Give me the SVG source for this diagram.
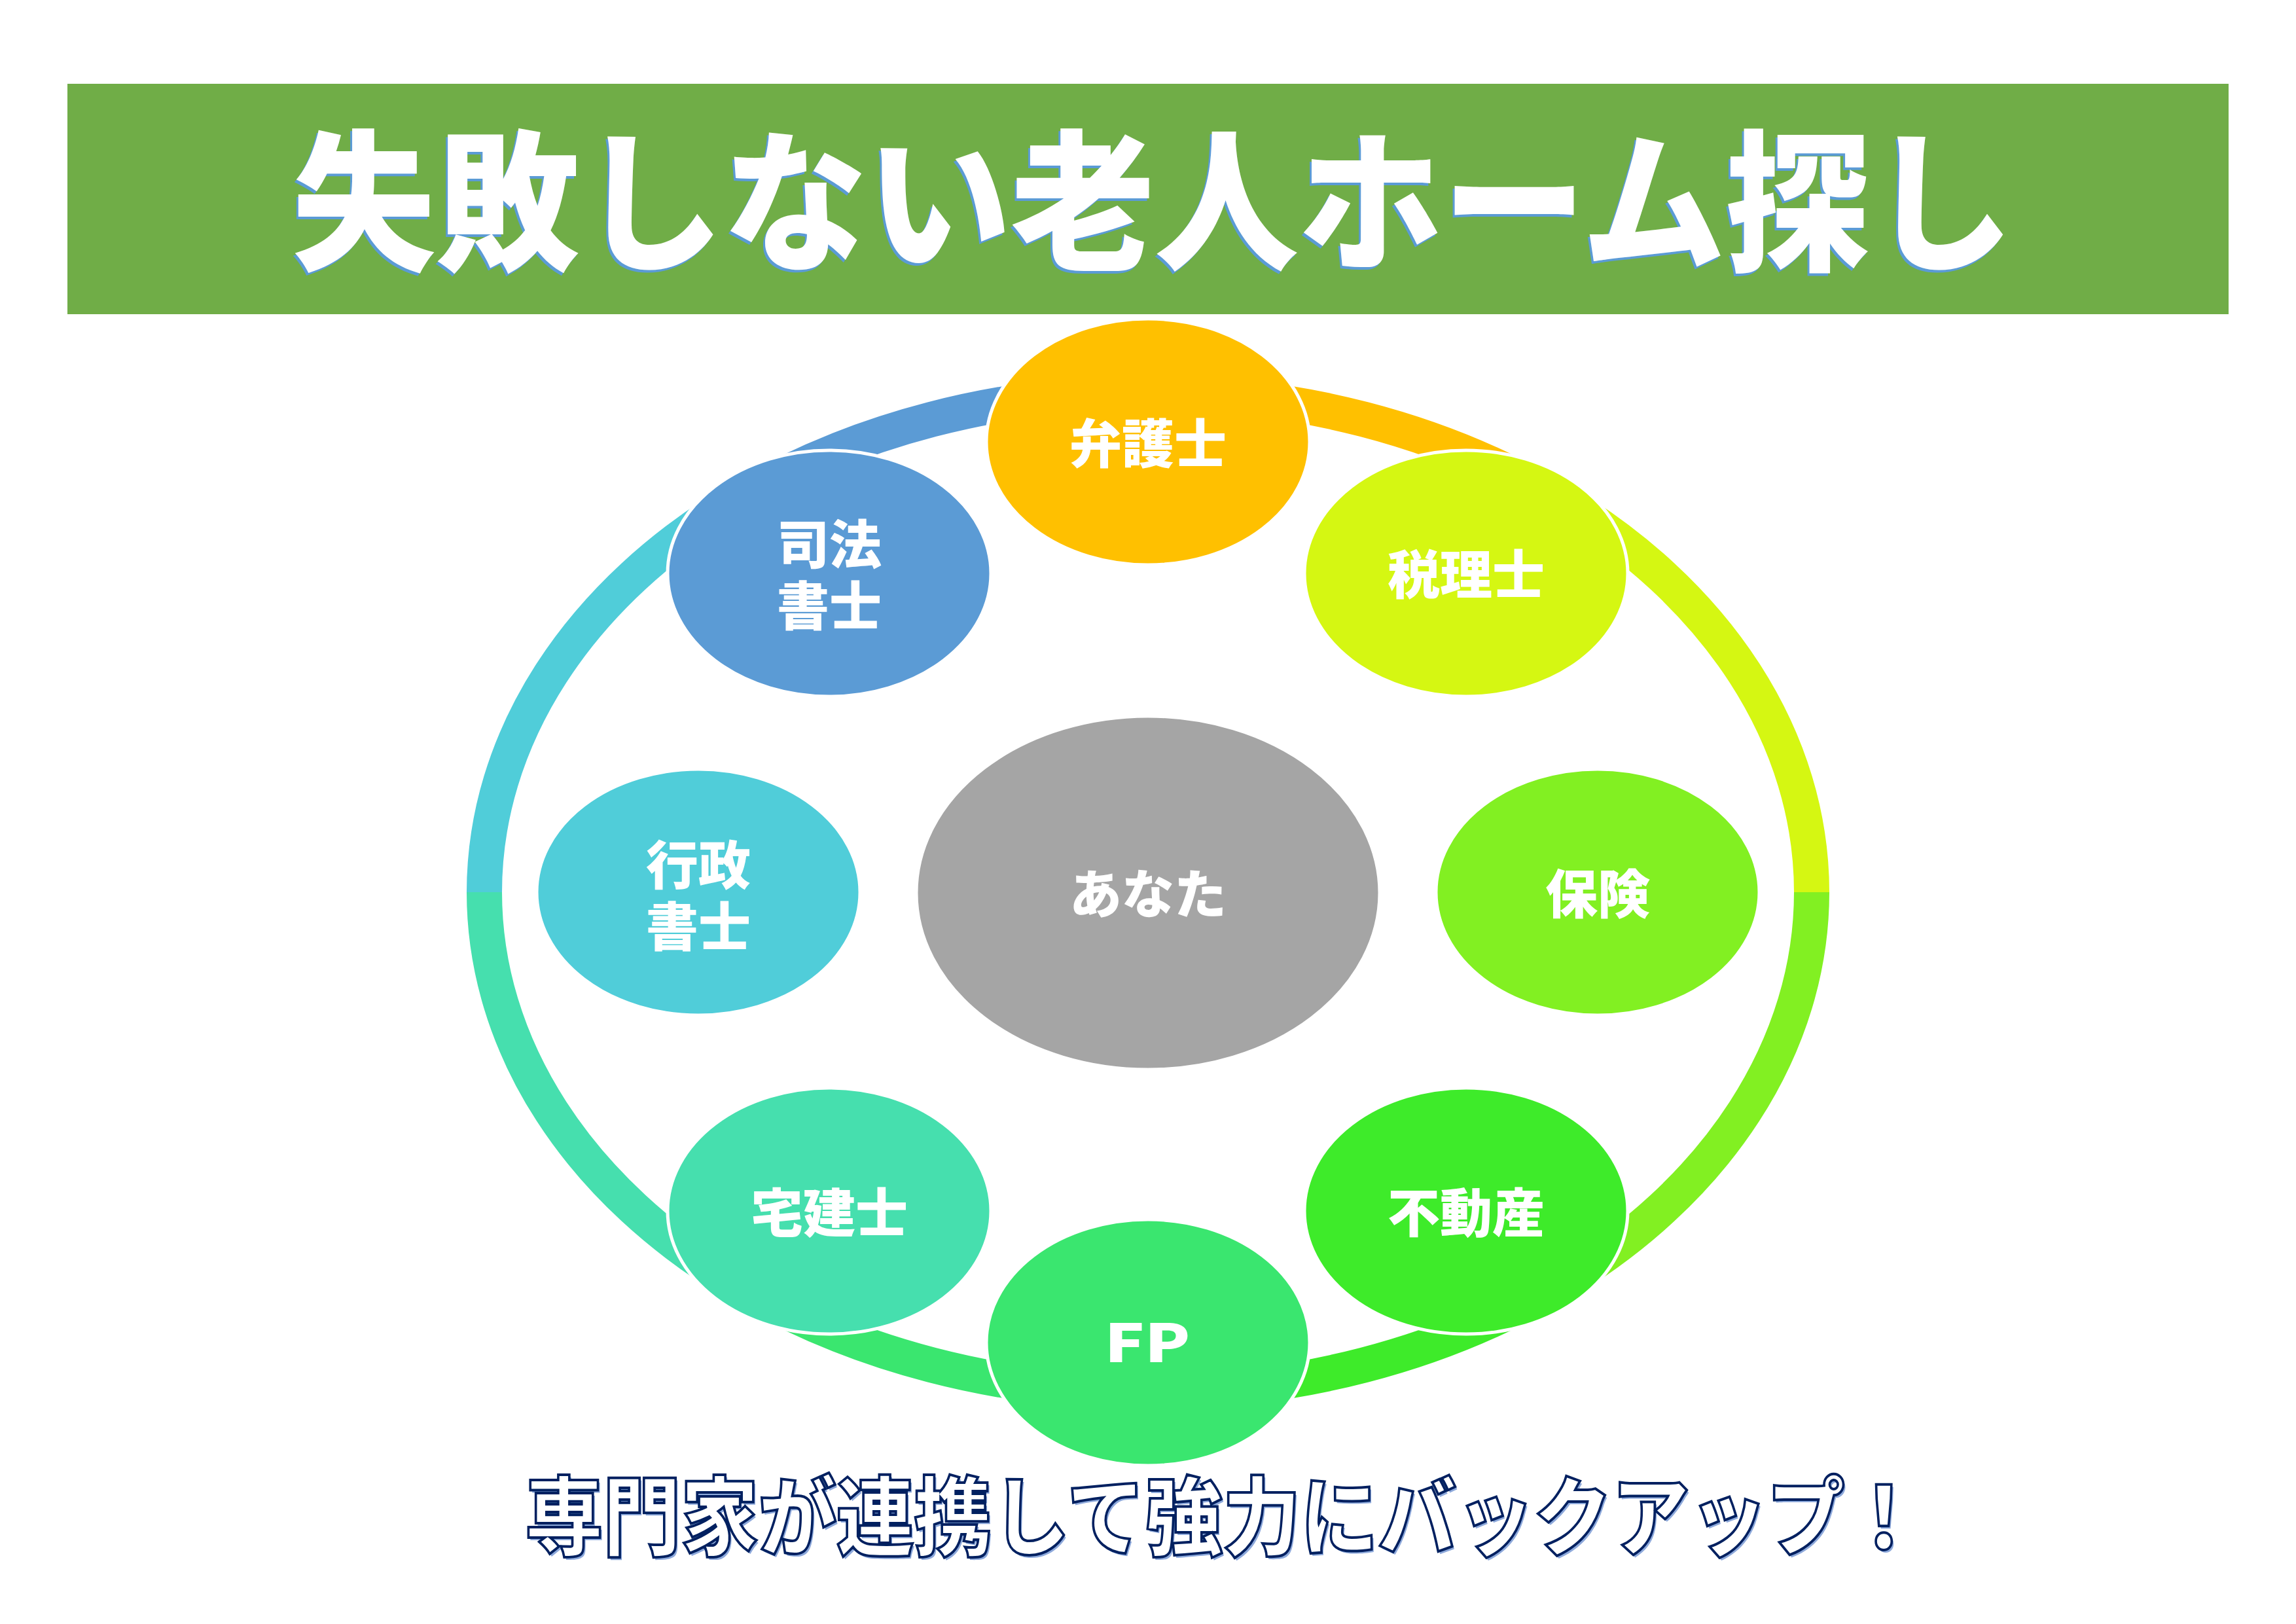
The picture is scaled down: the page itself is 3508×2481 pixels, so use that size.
<svg xmlns="http://www.w3.org/2000/svg" width="3508" height="2481" viewBox="0 0 3508 2481">
<style>
.ring{fill:none;stroke-width:54;stroke-linecap:butt}
.node{stroke:#FFFFFF;stroke-width:5}
.lbl{font-family:"Noto Sans CJK JP","Noto Sans",sans-serif;font-weight:900;font-size:80px;fill:#FFFFFF;text-anchor:middle;dominant-baseline:central}
.title{font-family:"Noto Sans CJK JP",sans-serif;font-weight:900;font-size:232px;text-anchor:middle;dominant-baseline:central}
.sub{font-family:"Noto Sans CJK JP",sans-serif;font-weight:900;font-size:132px;text-anchor:middle;dominant-baseline:central}
</style>
<rect width="3508" height="2481" fill="#FFFFFF"/>
<g id="title">
<rect x="103" y="128" width="3302" height="352" fill="#70AD47"/>
<text class="title" x="1758" y="298" fill="#5B9BD5" textLength="2630" lengthAdjust="spacingAndGlyphs">失敗しない老人ホーム探し</text>
<text class="title" x="1761" y="294" fill="#FFFFFF" textLength="2630" lengthAdjust="spacingAndGlyphs">失敗しない老人ホーム探し</text>
</g>
<g id="connectors">
<path class="ring" stroke="#FFC000" d="M1754,599 A1014,764 0 0 1 2378.3,761"/>
<path class="ring" stroke="#D5F712" d="M2378.3,761 A1014,764 0 0 1 2768,1363"/>
<path class="ring" stroke="#82F022" d="M2768,1363 A1014,764 0 0 1 2378.3,1965"/>
<path class="ring" stroke="#3EEB2A" d="M2378.3,1965 A1014,764 0 0 1 1754,2127"/>
<path class="ring" stroke="#3AE66F" d="M1754,2127 A1014,764 0 0 1 1129.7,1965"/>
<path class="ring" stroke="#46DFAE" d="M1129.7,1965 A1014,764 0 0 1 740,1363"/>
<path class="ring" stroke="#50CDD9" d="M740,1363 A1014,764 0 0 1 1129.7,761"/>
<path class="ring" stroke="#5B9BD5" d="M1129.7,761 A1014,764 0 0 1 1754,599"/>
</g>
<g id="node-bengoshi">
<ellipse class="node" cx="1754" cy="675" rx="247" ry="188" fill="#FFC000"/>
<text class="lbl" x="1754" y="672">弁護士</text>
</g>
<g id="node-zeirishi">
<ellipse class="node" cx="2240" cy="876" rx="247" ry="188" fill="#D5F712"/>
<text class="lbl" x="2240" y="872">税理士</text>
</g>
<g id="node-hoken">
<ellipse class="node" cx="2441" cy="1363" rx="247" ry="188" fill="#82F022"/>
<text class="lbl" x="2441" y="1360">保険</text>
</g>
<g id="node-fudosan">
<ellipse class="node" cx="2240" cy="1850" rx="247" ry="188" fill="#3EEB2A"/>
<text class="lbl" x="2240" y="1847">不動産</text>
</g>
<g id="node-fp">
<ellipse class="node" cx="1754" cy="2051" rx="247" ry="188" fill="#3AE66F"/>
<text class="lbl" x="1753" y="2046" font-size="92" textLength="131" lengthAdjust="spacingAndGlyphs">FP</text>
</g>
<g id="node-takken">
<ellipse class="node" cx="1267" cy="1850" rx="247" ry="188" fill="#46DFAE"/>
<text class="lbl" x="1267" y="1847">宅建士</text>
</g>
<g id="node-gyosei">
<ellipse class="node" cx="1067" cy="1363" rx="247" ry="188" fill="#50CDD9"/>
<text class="lbl" x="1067" y="1316">行政</text>
<text class="lbl" x="1067" y="1410">書士</text>
</g>
<g id="node-shiho">
<ellipse class="node" cx="1267" cy="876" rx="247" ry="188" fill="#5B9BD5"/>
<text class="lbl" x="1267" y="826">司法</text>
<text class="lbl" x="1267" y="920">書士</text>
</g>
<g id="node-anata">
<ellipse class="node" cx="1754" cy="1364" rx="354" ry="270" fill="#A5A5A5"/>
<text class="lbl" x="1754" y="1360">あなた</text>
</g>
<g id="subtitle">
<text class="sub" x="1873" y="2312" fill="#8EA9DB" textLength="2135" lengthAdjust="spacingAndGlyphs">専門家が連携して強力にバックアップ！</text>
<text class="sub" x="1870" y="2308" fill="#FFFFFF" stroke="#002060" stroke-width="4" textLength="2135" lengthAdjust="spacingAndGlyphs">専門家が連携して強力にバックアップ！</text>
</g>
</svg>
